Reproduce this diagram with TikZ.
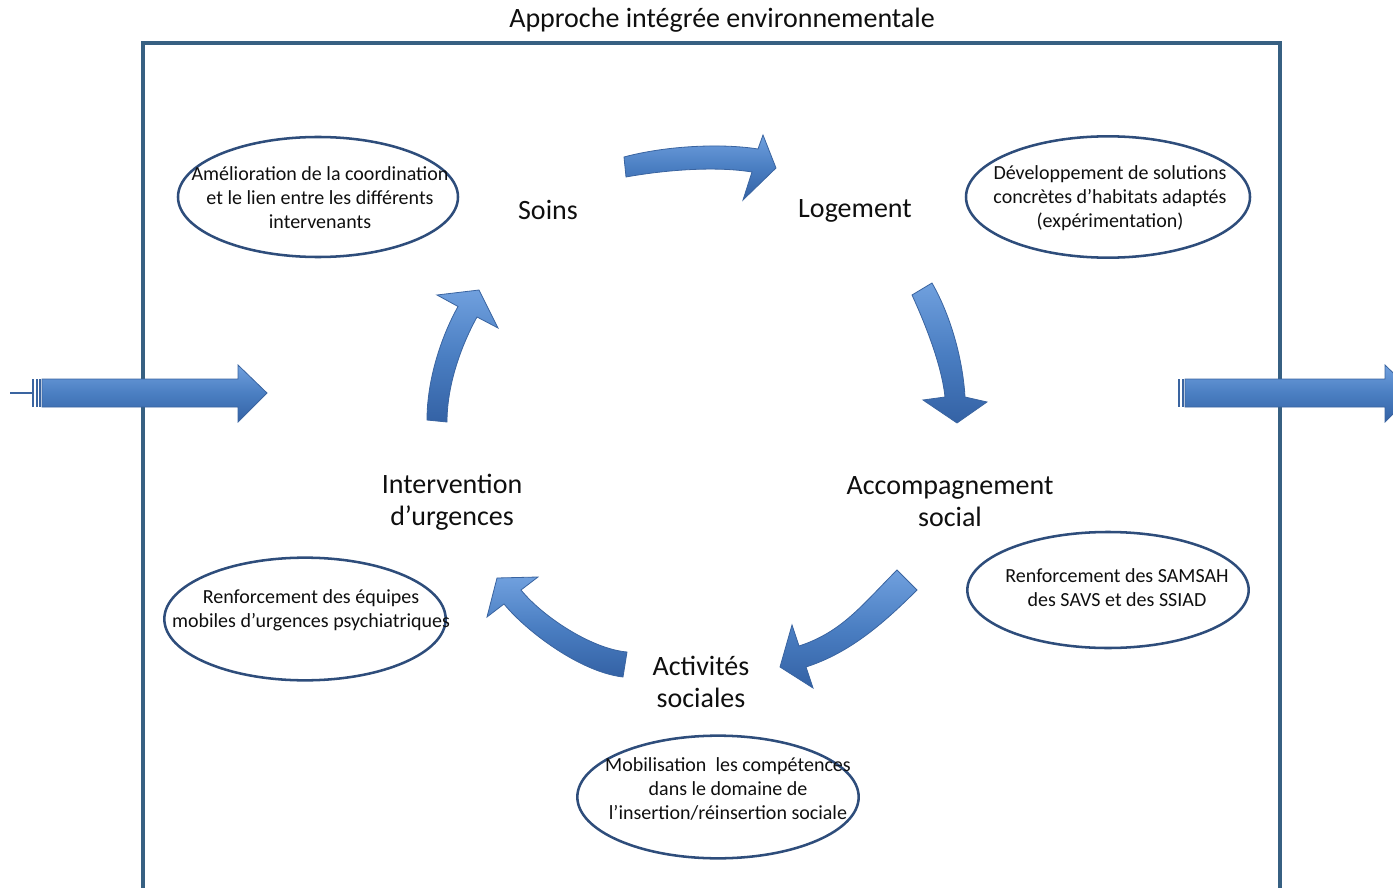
\documentclass[tikz,border=0pt]{standalone}
\usepackage{fontspec}
\setmainfont{Carlito}
\usetikzlibrary{shapes.geometric}

\definecolor{framec}{RGB}{55,96,130}
\definecolor{ringc}{RGB}{46,77,123}
\definecolor{arrowtop}{RGB}{112,160,222}
\definecolor{arrowmid}{RGB}{74,126,194}
\definecolor{arrowbot}{RGB}{52,98,165}
\definecolor{arrowedge}{RGB}{58,100,160}
\definecolor{textc}{RGB}{15,15,15}

\tikzset{
  bubble/.style={draw=ringc, line width=1.9pt, ellipse, inner sep=0pt},
  bubbletext/.style={align=center, font=\fontsize{15}{18}\selectfont, text=textc},
  steplabel/.style={align=center, font=\fontsize{21}{24}\selectfont, text=textc},
  blockarrow/.style={draw=arrowedge, line width=0.6pt, top color=arrowtop, bottom color=arrowbot, middle color=arrowmid},
  tailbar/.style={fill=arrowedge},
}

\begin{document}
\begin{tikzpicture}[x=0.75pt,y=0.75pt,yscale=-1,xscale=1]
\useasboundingbox (0,0) rectangle (1393,888);
\clip (0,0) rectangle (1393,888);

%Shape: Frame [open at the bottom]
\draw [draw=framec, line width=2.3pt] (143,900) -- (143,43) -- (1280,43) -- (1280,900) ;

% Text Node
\node [steplabel] (title) at (722,20) {Approche intégrée environnementale};

% Text Nodes (cycle steps)
\node [steplabel] (soins) at (548,210) {Soins};
\node [steplabel] (logement) at (855,211) {Logement};
\node [steplabel] (accomp) at (950,502) {Accompagnement\\social};
\node [steplabel] (activites) at (701,682) {Activités\\sociales};
\node [steplabel] (interv) at (452,502) {Intervention\\d’urgences};

%Shape: Ellipse + Text Node
\node [bubble, minimum width=210pt, minimum height=90pt] (coordring) at (318,197) {};
\node [bubbletext] (coordtext) at (320,198) {Amélioration de la coordination\\et le lien entre les différents\\intervenants};

%Shape: Ellipse + Text Node
\node [bubble, minimum width=213pt, minimum height=91pt] (habitring) at (1108,197) {};
\node [bubbletext] (habittext) at (1110,198) {Développement de solutions\\concrètes d’habitats adaptés\\(expérimentation)};

%Shape: Ellipse + Text Node
\node [bubble, minimum width=211pt, minimum height=87pt] (samsahring) at (1108,590) {};
\node [bubbletext] (samsahtext) at (1117,588) {Renforcement des SAMSAH\\des SAVS et des SSIAD};

%Shape: Ellipse + Text Node
\node [bubble, minimum width=211pt, minimum height=92pt] (equipring) at (305,619) {};
\node [bubbletext] (equiptext) at (311,610) {Renforcement des équipes\\mobiles d’urgences psychiatriques};

%Shape: Ellipse + Text Node
\node [bubble, minimum width=211pt, minimum height=92pt] (insertring) at (718,797) {};
\node [bubbletext] (inserttext) at (728,789) {Mobilisation~ les compétences\\dans le domaine de\\l’insertion/réinsertion sociale};

%Shape: Right Arrow [entering]
\draw [arrowedge, line width=0.8pt] (10,393) -- (32,393) ;
\fill [tailbar] (32,379) rectangle (34,407) ;
\fill [tailbar] (35.5,379) rectangle (37.5,407) ;
\fill [tailbar] (39,379) rectangle (41,407) ;
\draw [blockarrow] (42,379) -- (238,379) -- (238,365) -- (267,393) -- (238,422) -- (238,407) -- (42,407) -- cycle ;

%Shape: Right Arrow [leaving]
\fill [tailbar] (1178,379) rectangle (1180,407) ;
\fill [tailbar] (1181.5,379) rectangle (1183.5,407) ;
\draw [blockarrow] (1185,379) -- (1385,379) -- (1385,365) -- (1414,393) -- (1385,422) -- (1385,407) -- (1185,407) -- cycle ;

%Shape: Curved Arrow [soins -> logement]
\draw [blockarrow] (624,157) .. controls (665,146) and (720,143) .. (758,149) -- (763,135) -- (776,168) -- (743,200) -- (752,172) .. controls (715,166) and (665,170) .. (626,177) -- cycle ;

%Shape: Curved Arrow [logement -> accompagnement]
\draw [blockarrow] (932,283) .. controls (952,318) and (963,362) .. (965,397) -- (987,402) -- (957,423) -- (923,400) -- (945,397) .. controls (942,368) and (928,330) .. (912,295) -- cycle ;

%Shape: Curved Arrow [accompagnement -> activites]
\draw [blockarrow] (897,570) .. controls (862,605) and (842,632) .. (799,646) -- (792,625) -- (780,667) -- (813,688) -- (806,667) .. controls (849,653) and (882,625) .. (917,590) -- cycle ;

%Shape: Curved Arrow [activites -> intervention]
\draw [blockarrow] (627,652) .. controls (592,649) and (543,617) .. (521,590) -- (538,577) -- (497,578) -- (487,617) -- (504,604) .. controls (526,631) and (580,672) .. (623,677) -- cycle ;

%Shape: Curved Arrow [intervention -> soins]
\draw [blockarrow] (427,420) .. controls (427,380) and (441,337) .. (458,306.5) -- (437,295) -- (479,290) -- (498,328) -- (477,317) .. controls (461,346) and (447,385) .. (447,422) -- cycle ;

\end{tikzpicture}
\end{document}
